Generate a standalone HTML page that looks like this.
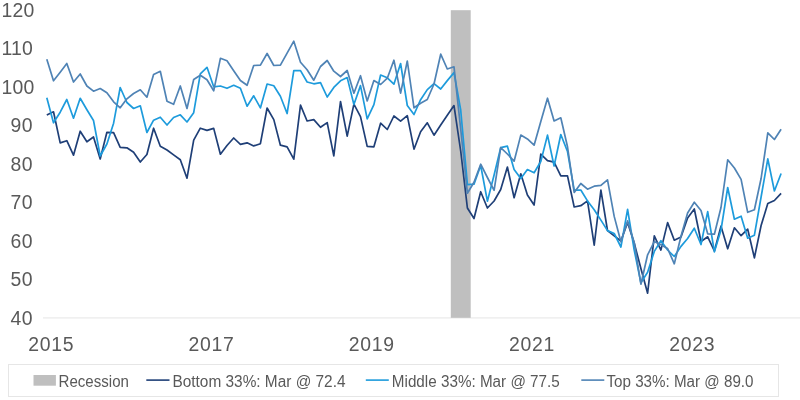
<!DOCTYPE html>
<html><head><meta charset="utf-8"><title>Consumer Sentiment by Income</title>
<style>
html,body{margin:0;padding:0;background:#fff;}
svg{display:block;}
text{font-family:"Liberation Sans",sans-serif;fill:#595959;}
.ax text{font-size:19.4px;letter-spacing:0.3px;}
.lg text{font-size:15.8px;}
polyline{fill:none;stroke-width:1.7;stroke-linejoin:round;stroke-linecap:butt;}
</style></head><body>
<svg width="800" height="400" viewBox="0 0 800 400">
<rect width="800" height="400" fill="#fff"/>
<line x1="43" y1="317.9" x2="800" y2="317.9" stroke="#f0f0f0" stroke-width="1.6"/>
<rect x="450.8" y="10.2" width="19.9" height="307.6" fill="#bfbfbf"/>
<g class="ax"><text x="1.4" y="16.9">120</text><text x="1.4" y="55.4">110</text><text x="1.4" y="93.9">100</text><text x="10.6" y="132.4">90</text><text x="10.6" y="170.9">80</text><text x="10.6" y="209.4">70</text><text x="10.6" y="247.9">60</text><text x="10.6" y="286.4">50</text><text x="10.6" y="324.9">40</text><text x="51.2" y="350.6" text-anchor="middle" style="letter-spacing:0.75px">2015</text><text x="211.5" y="350.6" text-anchor="middle" style="letter-spacing:0.75px">2017</text><text x="371.8" y="350.6" text-anchor="middle" style="letter-spacing:0.75px">2019</text><text x="532.0" y="350.6" text-anchor="middle" style="letter-spacing:0.75px">2021</text><text x="692.3" y="350.6" text-anchor="middle" style="letter-spacing:0.75px">2023</text></g>
<polyline stroke="#1f3f77" points="46.8,115.0 53.5,111.8 60.2,142.9 66.8,140.7 73.5,155.2 80.2,131.2 86.9,141.8 93.5,137.0 100.2,159.0 106.9,132.3 113.6,132.7 120.2,147.4 126.9,147.8 133.6,152.2 140.3,162.0 146.9,154.5 153.6,128.2 160.3,146.2 167.0,150.0 173.6,154.9 180.3,159.8 187.0,178.2 193.7,140.2 200.3,128.2 207.0,130.4 213.7,128.4 220.4,154.2 227.0,145.5 233.7,138.0 240.4,144.4 247.1,142.8 253.7,145.9 260.4,143.7 267.1,108.0 273.8,119.6 280.4,145.2 287.1,146.8 293.8,159.2 300.5,105.2 307.1,121.0 313.8,119.6 320.5,127.3 327.2,122.6 333.8,155.8 340.5,101.5 347.2,136.2 353.9,104.2 360.5,116.6 367.2,146.4 373.9,146.8 380.6,123.2 387.3,129.5 393.9,116.0 400.6,121.2 407.3,115.7 414.0,149.2 420.6,131.8 427.3,122.8 434.0,135.2 440.7,125.0 447.3,115.2 454.0,105.6 460.7,151.0 467.4,208.0 474.0,218.5 480.7,191.7 487.4,208.0 494.1,201.0 500.7,189.5 507.4,167.0 514.1,197.7 520.8,173.8 527.4,195.0 534.1,205.0 540.8,154.2 547.5,160.7 554.1,162.2 560.8,175.8 567.5,175.9 574.2,207.0 580.8,205.7 587.5,200.9 594.2,245.2 600.9,190.2 607.5,230.5 614.2,235.8 620.9,241.0 627.6,222.5 634.2,243.0 640.9,268.5 647.6,293.2 654.3,235.8 660.9,250.1 667.6,222.6 674.3,240.2 681.0,237.0 687.6,217.9 694.3,209.0 701.0,241.5 707.7,236.8 714.4,251.0 721.0,226.2 727.7,248.8 734.4,227.8 741.1,235.7 747.7,229.2 754.4,257.8 761.1,225.5 767.8,203.5 774.4,200.5 781.1,193.3"/>
<polyline stroke="#1d9bdc" points="46.8,97.7 53.5,122.8 60.2,112.2 66.8,99.5 73.5,118.2 80.2,98.3 86.9,109.7 93.5,120.5 100.2,156.0 106.9,144.0 113.6,123.2 120.2,87.5 126.9,102.5 133.6,108.5 140.3,105.8 146.9,132.5 153.6,120.2 160.3,117.2 167.0,125.0 173.6,117.5 180.3,114.8 187.0,122.0 193.7,112.7 200.3,73.8 207.0,67.3 213.7,86.8 220.4,86.0 227.0,88.3 233.7,85.3 240.4,88.3 247.1,106.2 253.7,95.8 260.4,107.9 267.1,84.0 273.8,85.8 280.4,96.2 287.1,113.5 293.8,70.6 300.5,70.6 307.1,82.0 313.8,83.8 320.5,82.6 327.2,97.0 333.8,87.4 340.5,80.8 347.2,77.6 353.9,104.5 360.5,85.6 367.2,118.8 373.9,104.6 380.6,75.0 387.3,77.8 393.9,84.2 400.6,63.5 407.3,105.5 414.0,114.5 420.6,99.7 427.3,89.6 434.0,83.6 440.7,89.0 447.3,80.6 454.0,72.6 460.7,110.0 467.4,184.6 474.0,184.1 480.7,165.5 487.4,201.2 494.1,175.0 500.7,147.7 507.4,146.2 514.1,169.6 520.8,178.6 527.4,169.6 534.1,172.8 540.8,161.5 547.5,135.1 554.1,166.0 560.8,134.5 567.5,151.5 574.2,190.2 580.8,190.0 587.5,200.9 594.2,209.7 600.9,220.1 607.5,230.6 614.2,233.5 620.9,247.0 627.6,209.4 634.2,250.0 640.9,282.8 647.6,272.2 654.3,251.4 660.9,240.7 667.6,250.0 674.3,256.5 681.0,246.4 687.6,238.5 694.3,228.2 701.0,244.5 707.7,211.7 714.4,251.8 721.0,230.0 727.7,187.5 734.4,219.2 741.1,216.2 747.7,238.2 754.4,235.2 761.1,197.0 767.8,158.8 774.4,191.0 781.1,173.5"/>
<polyline stroke="#4f83b5" points="46.8,59.3 53.5,80.8 60.2,72.2 66.8,63.5 73.5,82.0 80.2,74.0 86.9,86.0 93.5,91.2 100.2,88.5 106.9,92.8 113.6,101.8 120.2,107.8 126.9,98.8 133.6,93.5 140.3,89.8 146.9,97.2 153.6,74.5 160.3,71.3 167.0,101.3 173.6,104.3 180.3,86.0 187.0,108.5 193.7,79.5 200.3,75.2 207.0,79.8 213.7,90.8 220.4,58.3 227.0,60.7 233.7,70.8 240.4,80.5 247.1,85.3 253.7,65.5 260.4,65.2 267.1,53.5 273.8,65.5 280.4,65.2 287.1,53.2 293.8,41.2 300.5,62.2 307.1,69.8 313.8,80.2 320.5,66.5 327.2,60.5 333.8,71.2 340.5,76.5 347.2,70.5 353.9,93.2 360.5,75.7 367.2,101.0 373.9,80.5 380.6,84.5 387.3,78.2 393.9,60.2 400.6,93.2 407.3,61.0 414.0,107.8 420.6,103.2 427.3,99.5 434.0,84.0 440.7,54.2 447.3,69.0 454.0,66.8 460.7,129.0 467.4,193.2 474.0,182.3 480.7,164.2 487.4,177.5 494.1,190.3 500.7,147.7 507.4,154.0 514.1,161.2 520.8,135.1 527.4,138.9 534.1,145.2 540.8,121.5 547.5,98.2 554.1,121.0 560.8,117.8 567.5,146.8 574.2,192.5 580.8,183.5 587.5,189.2 594.2,186.2 600.9,185.4 607.5,179.8 614.2,216.4 620.9,241.8 627.6,220.9 634.2,242.5 640.9,284.2 647.6,254.8 654.3,241.6 660.9,244.8 667.6,248.5 674.3,263.8 681.0,236.2 687.6,213.0 694.3,202.2 701.0,210.5 707.7,233.8 714.4,234.2 721.0,207.5 727.7,159.8 734.4,168.0 741.1,179.4 747.7,212.3 754.4,209.8 761.1,178.5 767.8,132.9 774.4,139.5 781.1,129.2"/>
<g class="lg">
<rect x="8.5" y="364.5" width="770" height="32" fill="#fff" stroke="#e6e6e6" stroke-width="1"/>
<rect x="33.5" y="375" width="22.4" height="10.7" fill="#bfbfbf"/>
<text x="58.6" y="386.6" textLength="70.3" lengthAdjust="spacingAndGlyphs">Recession</text>
<line x1="146.3" y1="380.1" x2="169.5" y2="380.1" stroke="#1f3f77" stroke-width="1.6"/>
<text x="172.5" y="386.6" textLength="173" lengthAdjust="spacingAndGlyphs">Bottom 33%: Mar @ 72.4</text>
<line x1="365.8" y1="380.1" x2="388.8" y2="380.1" stroke="#1d9bdc" stroke-width="1.6"/>
<text x="391.8" y="386.6" textLength="168" lengthAdjust="spacingAndGlyphs">Middle 33%: Mar @ 77.5</text>
<line x1="581.3" y1="380.1" x2="604.3" y2="380.1" stroke="#4f83b5" stroke-width="1.6"/>
<text x="606.5" y="386.6" textLength="147" lengthAdjust="spacingAndGlyphs">Top 33%: Mar @ 89.0</text>
</g>
</svg>
</body></html>
